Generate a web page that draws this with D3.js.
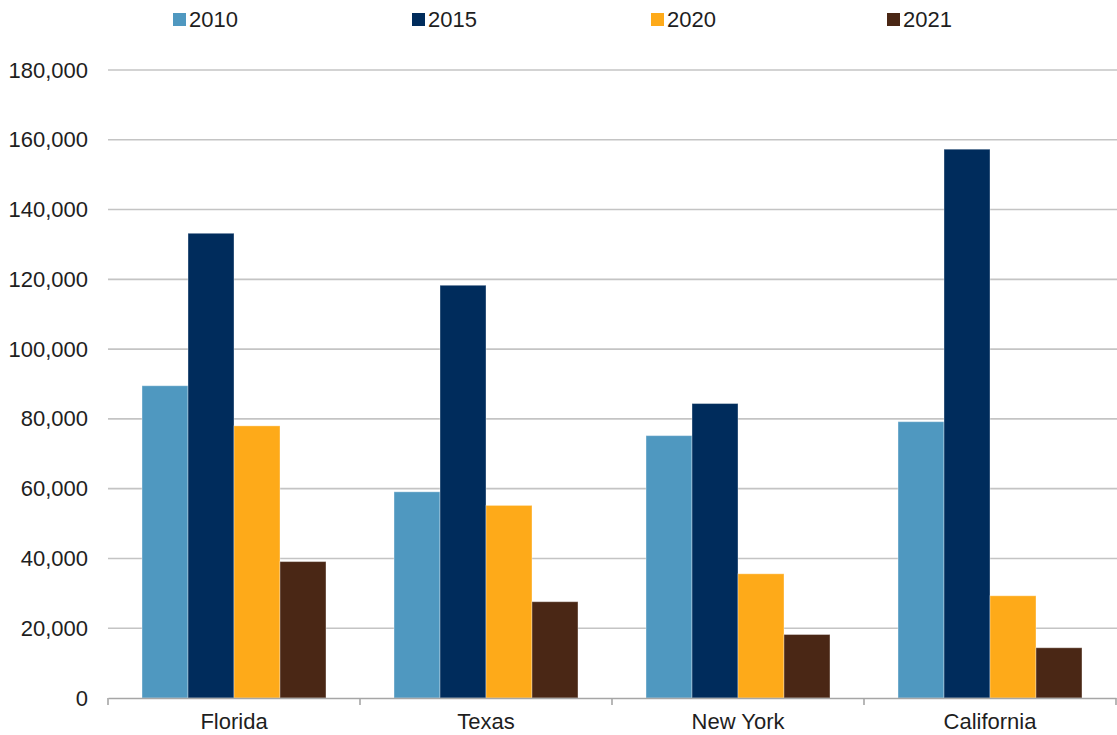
<!DOCTYPE html>
<html>
<head>
<meta charset="utf-8">
<script src="https://cdn.jsdelivr.net/npm/d3@7"></script>
<style>
  html, body { margin: 0; padding: 0; background: #ffffff; }
  svg { display: block; font-family: "Liberation Sans", Arial, sans-serif; }
</style>
</head>
<body>
<svg id="chart" width="1117" height="735"></svg>
<script>
// Categories and series
const states = ["Florida", "Texas", "New York", "California"];
const years = ["2010", "2015", "2020", "2021"];
const values2010 = [89500, 59100, 75200, 79200];
const values2015 = [133200, 118300, 84400, 157300];
const values2020 = [78000, 55200, 35600, 29300];
const values2021 = [39100, 27600, 18200, 14400];
const yTicks = [0, 20000, 40000, 60000, 80000, 100000, 120000, 140000, 160000, 180000];
const colors = ["#4f98c0", "#002c5c", "#feaa19", "#4a2715"];

const seriesValues = [values2010, values2015, values2020, values2021];

const svg = d3.select("#chart");
const plot = { left: 108, right: 1116, top: 70, bottom: 698 };

const y = d3.scaleLinear().domain([0, 180000]).range([plot.bottom, plot.top]);
const x0 = d3.scaleBand().domain(states).range([plot.left, plot.right]).padding(0);
const bw = x0.bandwidth();
const x1 = d3.scaleBand().domain(years).range([bw * 0.135, bw * 0.865]).padding(0);
const color = d3.scaleOrdinal().domain(years).range(colors);

// Horizontal gridlines
svg.append("g")
  .selectAll("line")
  .data(yTicks.filter(d => d > 0))
  .join("line")
  .attr("x1", plot.left)
  .attr("x2", 1117)
  .attr("y1", d => y(d))
  .attr("y2", d => y(d))
  .attr("stroke", "#c4c4c4")
  .attr("stroke-width", 1.6);

// Y axis labels
const yAxis = d3.axisLeft(y)
  .tickValues(yTicks)
  .tickFormat(d3.format(","))
  .tickSize(0)
  .tickPadding(20);
const gy = svg.append("g").attr("transform", `translate(${plot.left},0)`).call(yAxis);
gy.select(".domain").remove();
gy.selectAll("text")
  .attr("font-size", 22)
  .attr("font-family", "'Liberation Sans', Arial, sans-serif")
  .attr("fill", "#1e1e1e");

// Bars
const rows = states.map((s, i) => ({ state: s, vals: years.map((yr, j) => ({ year: yr, value: seriesValues[j][i] })) }));

svg.append("g")
  .selectAll("g")
  .data(rows)
  .join("g")
  .attr("transform", d => `translate(${x0(d.state)},0)`)
  .selectAll("rect")
  .data(d => d.vals)
  .join("rect")
  .attr("x", d => x1(d.year))
  .attr("width", x1.bandwidth())
  .attr("y", d => y(d.value))
  .attr("height", d => y(0) - y(d.value))
  .attr("fill", d => color(d.year))
  .attr("stroke", "#ffffff")
  .attr("stroke-opacity", 0.35)
  .attr("stroke-width", 1);

// Category axis
const xAxis = d3.axisBottom(x0).tickSize(0).tickPadding(15);
const gx = svg.append("g").attr("transform", `translate(0,${plot.bottom})`).call(xAxis);
gx.select(".domain").attr("stroke", "#a6a6a6").attr("stroke-width", 1.6);
gx.selectAll("text")
  .attr("font-size", 22)
  .attr("font-family", "'Liberation Sans', Arial, sans-serif")
  .attr("fill", "#1e1e1e");

// Category separator ticks
const boundaries = states.map(s => x0(s)).concat([x0(states[states.length - 1]) + bw]);
svg.append("g")
  .selectAll("line")
  .data(boundaries)
  .join("line")
  .attr("x1", d => d)
  .attr("x2", d => d)
  .attr("y1", plot.bottom)
  .attr("y2", plot.bottom + 7)
  .attr("stroke", "#a6a6a6")
  .attr("stroke-width", 1.6);

// Legend
const legendX = [173, 412, 651, 887];
const legend = svg.append("g")
  .selectAll("g")
  .data(years)
  .join("g")
  .attr("transform", (d, i) => `translate(${legendX[i]},13)`);
legend.append("rect")
  .attr("width", 13)
  .attr("height", 13)
  .attr("fill", d => color(d));
legend.append("text")
  .attr("x", 16)
  .attr("y", 6.5)
  .attr("dy", "0.36em")
  .attr("font-size", 22)
  .attr("fill", "#1e1e1e")
  .text(d => d);
</script>
</body>
</html>
